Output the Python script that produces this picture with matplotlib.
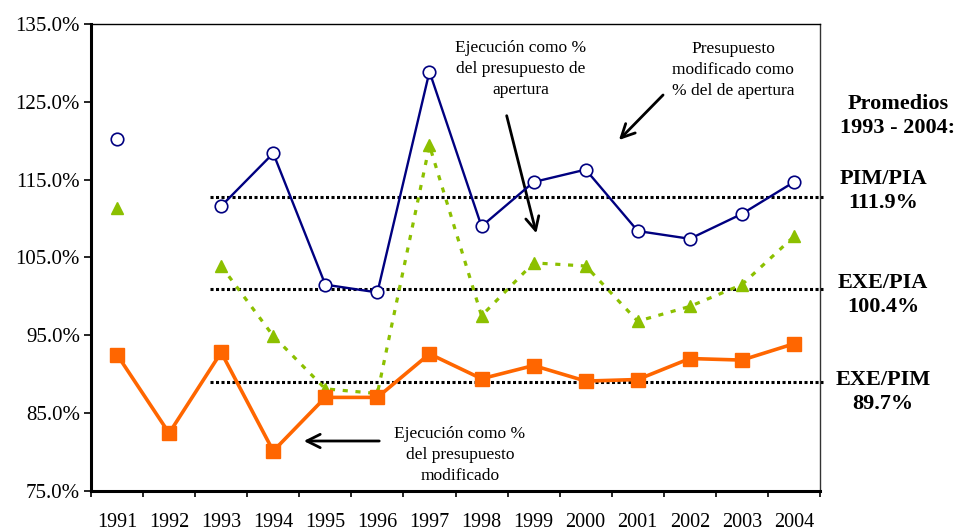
import numpy as np
import matplotlib
matplotlib.use("Agg")
import matplotlib.pyplot as plt

years = ["1991", "1992", "1993", "1994", "1995", "1996", "1997",
         "1998", "1999", "2000", "2001", "2002", "2003", "2004"]
pim_pia = [120.2, np.nan, 111.6, 118.4, 101.5, 100.5, 128.9,
           109.0, 114.7, 116.3, 108.4, 107.4, 110.6, 114.7]
exe_pia = [111.3, np.nan, 103.9, 94.9, 88.1, 87.5, 119.4,
           97.5, 104.3, 103.9, 96.8, 98.7, 101.5, 107.7]
exe_pim = [92.5, 82.4, 92.8, 80.1, 87.0, 87.0, 92.6,
           89.4, 91.1, 89.1, 89.3, 92.0, 91.8, 93.9]
avg_lines = [112.8, 100.9, 89.0]
avg_labels = ["PIM/PIA\n111.9%", "EXE/PIA\n100.4%", "EXE/PIM\n89.7%"]
yticks = [75, 85, 95, 105, 115, 125, 135]

plt.rcParams['font.family'] = ['Liberation Serif', 'DejaVu Serif']

W, H = 959, 531
fig = plt.figure(figsize=(W / 100, H / 100), dpi=100)
ax = fig.add_axes([91 / W, 1 - 490.7 / H, 729 / W, 466.5 / H])

def fp(x, y):
    return (x / W, 1 - y / H)

x = np.arange(len(years))

# average dotted lines
for v in avg_lines:
    ax.plot([1.78, 13.56], [v, v], color='black', linestyle=(0, (1, 0.8)),
            lw=2.2, clip_on=False, zorder=2)

ax.plot(x, exe_pia, color='#8CC000', lw=2.3, linestyle=(0, (1.6, 2.4)),
        marker='^', markersize=8.5, markerfacecolor='#8CC000',
        markeredgecolor='#8CC000', zorder=3)
ax.plot(x, pim_pia, color='#000080', lw=1.7, marker='o', markersize=9,
        markerfacecolor='white', markeredgecolor='#000080',
        markeredgewidth=1.2, zorder=4)
ax.plot(x, exe_pim, color='#FF6600', lw=2.6, marker='s', markersize=9.5,
        markerfacecolor='#FF6600', markeredgecolor='#FF6600', zorder=5)

ax.set_xlim(-0.5, 13.5)
ax.set_ylim(75, 135)
ax.set_yticks(yticks)
ax.set_yticklabels([f"{v:.1f}%" for v in yticks], fontsize=15)
ax.set_xticks(np.arange(-0.5, 14, 1))
ax.set_xticklabels([])
ax.set_xticks(x, minor=True)
ax.set_xticklabels(years, minor=True, fontsize=14.5)
ax.tick_params(axis='x', which='major', direction='out', length=4, width=1.2)
ax.tick_params(axis='x', which='minor', length=0, pad=16)
ax.tick_params(axis='y', direction='out', length=5, width=1.2, pad=3)

ax.spines['left'].set_linewidth(2.2)
ax.spines['bottom'].set_linewidth(2.2)
ax.spines['top'].set_linewidth(1.0)
ax.spines['right'].set_linewidth(1.0)
ax.spines['right'].set_color('#333333')

# annotations
tkw = dict(ha='center', va='center', fontsize=12.5, linespacing=1.45)
fig.text(*fp(521, 69), "Ejecución como %\ndel presupuesto de\napertura", **tkw)
fig.text(*fp(733, 70), "Presupuesto\nmodificado como\n% del de apertura", **tkw)
fig.text(*fp(460, 455), "Ejecución como %\ndel presupuesto\nmodificado", **tkw)

akw = dict(arrowstyle='->', lw=2, color='black', mutation_scale=24)
ax.annotate('', xy=fp(537, 236), xytext=fp(506, 113), xycoords='figure fraction',
            textcoords='figure fraction', arrowprops=akw)
ax.annotate('', xy=fp(617, 142), xytext=fp(665, 93), xycoords='figure fraction',
            textcoords='figure fraction', arrowprops=akw)
ax.annotate('', xy=fp(301, 441), xytext=fp(382, 441), xycoords='figure fraction',
            textcoords='figure fraction', arrowprops=akw)

bkw = dict(ha='center', va='center', fontsize=16, fontweight='bold', linespacing=1.3)
fig.text(*fp(898, 116), "Promedios\n1993 - 2004:", **bkw)
for lab, yy in zip(avg_labels, [191, 295, 392]):
    fig.text(*fp(883, yy), lab, **bkw)

fig.savefig("out.png", dpi=100)
